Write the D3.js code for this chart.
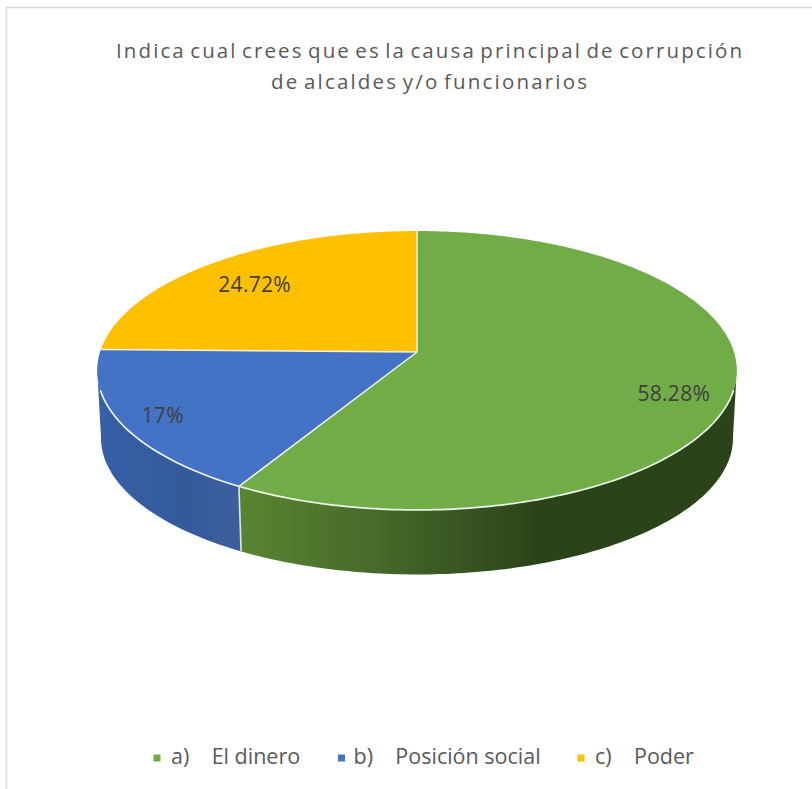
<!DOCTYPE html>
<html><head><meta charset="utf-8">
<script src="https://cdn.jsdelivr.net/npm/d3@7"></script>
<style>html,body{margin:0;padding:0;background:#fff}svg{display:block}</style>
</head><body><div id="chart"></div>
<script>
const categories = ["a)    El dinero", "b)    Posición social", "c)    Poder"];
const values = [58.28, 17, 24.72];
const valueLabels = ["58.28%", "17%", "24.72%"];
const colors = ["#70ad47", "#4472c4", "#ffc000"];
const titleLines = ["Indica cual crees que es la causa principal de corrupción", "de alcaldes y/o funcionarios"];

const W = 812, H = 789, FONT = "'Open Sans','Noto Sans',sans-serif";
const svg = d3.select("#chart").append("svg").attr("width", W).attr("height", H).attr("viewBox", [0,0,W,H]);
svg.append("rect").attr("width", W).attr("height", H).attr("fill", "#fff");
svg.append("path").attr("d", `M6.5 ${H}V7.5H${W}`).attr("fill", "none").attr("stroke", "#d9d9d9").attr("stroke-width", 1.5);

// Perspective view of a tilted disc
const cx = 417, cy = 352, Rx = 317, Ry = 137, k = 0.1326, depth = 68, shrink = 0.988, shrinkY = 0.978;
function project(a, r = 1, lower = false) {
  const u = Math.sin(a) * r, v = -Math.cos(a) * r, w = 1 - k * v;
  const sx = lower ? shrink : 1, sy = lower ? shrinkY : 1, y0 = lower ? cy + depth : cy;
  return [cx + sx * Rx * u / w, y0 + sy * Ry * v / w];
}
const pie = d3.pie().sort(null).value(d => d);
const arcs = pie(values);
const line = d3.line();
function sweep(a0, a1, lower) {
  const n = Math.max(2, Math.ceil(Math.abs(a1 - a0) * 60));
  return d3.range(n + 1).map(i => project(a0 + (a1 - a0) * i / n, 1, lower));
}

const defs = svg.append("defs");
function grad(id, x1, x2, stops) {
  const g = defs.append("linearGradient").attr("id", id).attr("gradientUnits", "userSpaceOnUse")
    .attr("x1", x1).attr("x2", x2).attr("y1", 0).attr("y2", 0);
  stops.forEach(s => g.append("stop").attr("offset", s[0]).attr("stop-color", s[1]));
}
grad("sideG", 243, 540, [[0, "#578431"], [0.45, "#47692a"], [1, "#2b431a"]]);
grad("sideB", 100, 243, [[0, "#3560a6"], [0.6, "#345a9c"], [1, "#3e5f9c"]]);

// sides: only the part of each slice that faces the viewer
const sideFill = ["url(#sideG)", "url(#sideB)", "none"];
const faceStart = Math.PI * 0.54, faceEnd = Math.PI * 1.46;
svg.append("g").selectAll("path").data(arcs).join("path")
  .attr("fill", (d, i) => sideFill[i])
  .attr("d", d => {
    const a0 = Math.max(d.startAngle, faceStart), a1 = Math.min(d.endAngle, faceEnd);
    if (a1 <= a0) return null;
    return line([...sweep(a0, a1, false), ...sweep(a1, a0, true)]) + "Z";
  });

// seam between the two visible sides
const seam = arcs[0].endAngle;
svg.append("path").attr("d", line([project(seam), project(seam, 1, true)]))
  .attr("stroke", "#dfe8d8").attr("stroke-width", 1.6).attr("fill", "none");

// top
svg.append("g").selectAll("path").data(arcs).join("path")
  .attr("fill", (d, i) => colors[i])
  .attr("d", d => line([[cx, cy], ...sweep(d.startAngle, d.endAngle, false)]) + "Z");

// bevel on the front rim
const frontStart = Math.PI * 0.587, frontEnd = Math.PI * 1.413;
svg.append("path").attr("d", line(sweep(frontStart, frontEnd, false)))
  .attr("fill", "none").attr("stroke", "#eef3ea").attr("stroke-width", 1.7);

// slice separators
svg.append("g").selectAll("path").data(arcs).join("path")
  .attr("d", d => line([[cx, cy], project(d.startAngle)]))
  .attr("stroke", "#f1f1e6").attr("stroke-width", 1.5).attr("fill", "none");

// data labels
const labelR = [0.815, 0.87, 0.785], labelDy = [12, 1, 4];
svg.append("g").selectAll("text").data(arcs).join("text")
  .attr("transform", (d, i) => {
    const p = project((d.startAngle + d.endAngle) / 2, labelR[i]);
    return `translate(${p[0]},${p[1] + labelDy[i]})`;
  })
  .attr("text-anchor", "middle").attr("dy", "0.35em")
  .attr("font-family", FONT).attr("font-size", 21).attr("letter-spacing", 0.3).attr("fill", "#404040")
  .text((d, i) => valueLabels[i]);

// title
svg.append("g").selectAll("text").data(titleLines).join("text")
  .attr("x", 429).attr("y", (d, i) => 58 + i * 31)
  .attr("text-anchor", "middle")
  .attr("font-family", FONT).attr("font-size", 20.5).attr("fill", "#595959")
  .style("word-spacing", "-3px")
  .attr("textLength", (d, i) => [626, 316][i]).attr("lengthAdjust", "spacing")
  .text(d => d);

// legend
const legendX = [153.5, 338, 577.5], textX = [171, 353.5, 595];
const legend = svg.append("g").selectAll("g").data(categories).join("g");
legend.append("rect").attr("x", (d, i) => legendX[i]).attr("y", 754.5).attr("width", 7).attr("height", 7).attr("fill", (d, i) => colors[i]);
legend.append("text").attr("x", (d, i) => textX[i]).attr("y", 764)
  .style("white-space", "pre")
  .attr("font-family", FONT).attr("font-size", 21.5).attr("fill", "#595959")
  .text(d => d);
</script></body></html>
